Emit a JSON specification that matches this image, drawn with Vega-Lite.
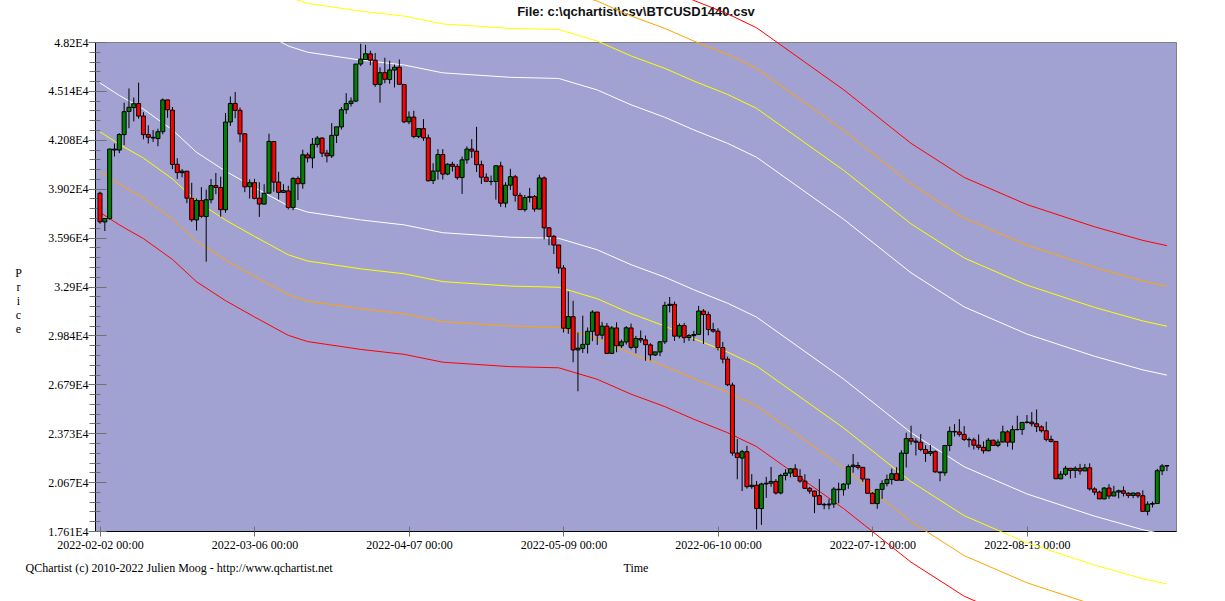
{
"$schema": "https://vega.github.io/schema/vega-lite/v6.json",
"width": 1081,
"height": 489,
"autosize": {"type": "none"},
"padding": {"left": 95, "top": 42, "right": 49, "bottom": 70},
"background": "white",
"config": {
  "view": {"fill": "#A2A2D2", "stroke": "#808080", "strokeWidth": 1},
  "axis": {"labelFont": "Liberation Serif", "labelFontSize": 12, "labelColor": "#000000", "titleFont": "Liberation Serif", "titleFontSize": 12, "titleFontWeight": "normal", "titleColor": "#000000", "grid": false, "tickColor": "#707070", "domainColor": "#000000", "labelFlush": false, "labelOverlap": false}
},
"datasets": {
"bands": [
{"d":"2022-02-02","w1":55640,"y1":58700,"o1":61200,"r1":63740,"w2":45640,"y2":42580,"o2":40080,"r2":37540},
{"d":"2022-02-06","w1":54860,"y1":57920,"o1":60420,"r1":62960,"w2":44860,"y2":41800,"o2":39300,"r2":36760},
{"d":"2022-02-11","w1":54000,"y1":57060,"o1":59560,"r1":62100,"w2":44000,"y2":40940,"o2":38440,"r2":35900},
{"d":"2022-02-17","w1":52700,"y1":55760,"o1":58260,"r1":60800,"w2":42700,"y2":39640,"o2":37140,"r2":34600},
{"d":"2022-02-22","w1":51300,"y1":54360,"o1":56860,"r1":59400,"w2":41300,"y2":38240,"o2":35740,"r2":33200},
{"d":"2022-02-28","w1":50120,"y1":53180,"o1":55680,"r1":58220,"w2":40120,"y2":37060,"o2":34560,"r2":32020},
{"d":"2022-03-06","w1":49100,"y1":52160,"o1":54660,"r1":57200,"w2":39100,"y2":36040,"o2":33540,"r2":31000},
{"d":"2022-03-13","w1":47950,"y1":51010,"o1":53510,"r1":56050,"w2":37950,"y2":34890,"o2":32390,"r2":29850},
{"d":"2022-03-17","w1":47560,"y1":50620,"o1":53120,"r1":55660,"w2":37560,"y2":34500,"o2":32000,"r2":29460},
{"d":"2022-03-28","w1":47070,"y1":50130,"o1":52630,"r1":55170,"w2":37070,"y2":34010,"o2":31510,"r2":28970},
{"d":"2022-04-06","w1":46760,"y1":49820,"o1":52320,"r1":54860,"w2":36760,"y2":33700,"o2":31200,"r2":28660},
{"d":"2022-04-14","w1":46270,"y1":49330,"o1":51830,"r1":54370,"w2":36270,"y2":33210,"o2":30710,"r2":28170},
{"d":"2022-04-28","w1":45990,"y1":49050,"o1":51550,"r1":54090,"w2":35990,"y2":32930,"o2":30430,"r2":27890},
{"d":"2022-05-08","w1":45920,"y1":48980,"o1":51480,"r1":54020,"w2":35920,"y2":32860,"o2":30360,"r2":27820},
{"d":"2022-05-16","w1":45200,"y1":48260,"o1":50760,"r1":53300,"w2":35200,"y2":32140,"o2":29640,"r2":27100},
{"d":"2022-05-23","w1":44270,"y1":47330,"o1":49830,"r1":52370,"w2":34270,"y2":31210,"o2":28710,"r2":26170},
{"d":"2022-05-30","w1":43490,"y1":46550,"o1":49050,"r1":51590,"w2":33490,"y2":30430,"o2":27930,"r2":25390},
{"d":"2022-06-05","w1":42700,"y1":45760,"o1":48260,"r1":50800,"w2":32700,"y2":29640,"o2":27140,"r2":24600},
{"d":"2022-06-12","w1":41860,"y1":44920,"o1":47420,"r1":49960,"w2":31860,"y2":28800,"o2":26300,"r2":23760},
{"d":"2022-06-18","w1":40990,"y1":44050,"o1":46550,"r1":49090,"w2":30990,"y2":27930,"o2":25430,"r2":22890},
{"d":"2022-07-06","w1":37120,"y1":40180,"o1":42680,"r1":45220,"w2":27120,"y2":24060,"o2":21560,"r2":19020},
{"d":"2022-07-20","w1":33760,"y1":36820,"o1":39320,"r1":41860,"w2":23760,"y2":20700,"o2":18200,"r2":15660},
{"d":"2022-07-31","w1":31630,"y1":34690,"o1":37190,"r1":39730,"w2":21630,"y2":18570,"o2":16070,"r2":13530},
{"d":"2022-08-13","w1":29930,"y1":32990,"o1":35490,"r1":38030,"w2":19930,"y2":16870,"o2":14370,"r2":11830},
{"d":"2022-08-27","w1":28540,"y1":31600,"o1":34100,"r1":36640,"w2":18540,"y2":15480,"o2":12980,"r2":10440},
{"d":"2022-09-06","w1":27690,"y1":30750,"o1":33250,"r1":35790,"w2":17690,"y2":14630,"o2":12130,"r2":9590},
{"d":"2022-09-11","w1":27360,"y1":30420,"o1":32920,"r1":35460,"w2":17360,"y2":14300,"o2":11800,"r2":9260}
],
"ohlc": [
{"d":"2022-02-02","o":38743,"h":38834,"l":36832,"c":36952},
{"d":"2022-02-03","o":36944,"h":37154,"l":36375,"c":37154},
{"d":"2022-02-04","o":37149,"h":41527,"l":37093,"c":41501},
{"d":"2022-02-05","o":41501,"h":41847,"l":41038,"c":41441},
{"d":"2022-02-06","o":41441,"h":42500,"l":41244,"c":42412},
{"d":"2022-02-07","o":42406,"h":44401,"l":41748,"c":43840},
{"d":"2022-02-08","o":43855,"h":45293,"l":42807,"c":44118},
{"d":"2022-02-09","o":44097,"h":44725,"l":43232,"c":44338},
{"d":"2022-02-10","o":44347,"h":45661,"l":43402,"c":43565},
{"d":"2022-02-11","o":43571,"h":43810,"l":42114,"c":42407},
{"d":"2022-02-12","o":42412,"h":42992,"l":41852,"c":42244},
{"d":"2022-02-13","o":42236,"h":42693,"l":41950,"c":42197},
{"d":"2022-02-14","o":42158,"h":42775,"l":41681,"c":42586},
{"d":"2022-02-15","o":42586,"h":44667,"l":42428,"c":44575},
{"d":"2022-02-16","o":44578,"h":44578,"l":43456,"c":43961},
{"d":"2022-02-17","o":43937,"h":44132,"l":40249,"c":40538},
{"d":"2022-02-18","o":40552,"h":40929,"l":39638,"c":40030},
{"d":"2022-02-19","o":40022,"h":40246,"l":39730,"c":40122},
{"d":"2022-02-20","o":40119,"h":40119,"l":38113,"c":38431},
{"d":"2022-02-21","o":38423,"h":39394,"l":36950,"c":37075},
{"d":"2022-02-22","o":37068,"h":38408,"l":36404,"c":38286},
{"d":"2022-02-23","o":38285,"h":39122,"l":37201,"c":37296},
{"d":"2022-02-24","o":37278,"h":38968,"l":34459,"c":38332},
{"d":"2022-02-25","o":38333,"h":39630,"l":38111,"c":39214},
{"d":"2022-02-26","o":39213,"h":40005,"l":38677,"c":39105},
{"d":"2022-02-27","o":39098,"h":39778,"l":37268,"c":37709},
{"d":"2022-02-28","o":37707,"h":43760,"l":37518,"c":43193},
{"d":"2022-03-01","o":43195,"h":44793,"l":42952,"c":44354},
{"d":"2022-03-02","o":44357,"h":45077,"l":43432,"c":43924},
{"d":"2022-03-03","o":43926,"h":44102,"l":41933,"c":42451},
{"d":"2022-03-04","o":42458,"h":42479,"l":38805,"c":39137},
{"d":"2022-03-05","o":39148,"h":39613,"l":38407,"c":39400},
{"d":"2022-03-06","o":39404,"h":39640,"l":38357,"c":38419},
{"d":"2022-03-07","o":38430,"h":39430,"l":37260,"c":38062},
{"d":"2022-03-08","o":38059,"h":39304,"l":38052,"c":38737},
{"d":"2022-03-09","o":38743,"h":42465,"l":38743,"c":41982},
{"d":"2022-03-10","o":41974,"h":42004,"l":38833,"c":39437},
{"d":"2022-03-11","o":39440,"h":40081,"l":38347,"c":38794},
{"d":"2022-03-12","o":38794,"h":39308,"l":38772,"c":38904},
{"d":"2022-03-13","o":38884,"h":39209,"l":37728,"c":37849},
{"d":"2022-03-14","o":37846,"h":39742,"l":37680,"c":39666},
{"d":"2022-03-15","o":39664,"h":39794,"l":38310,"c":39338},
{"d":"2022-03-16","o":39335,"h":41465,"l":39022,"c":41143},
{"d":"2022-03-17","o":41140,"h":41287,"l":40662,"c":40951},
{"d":"2022-03-18","o":40944,"h":42195,"l":40302,"c":41801},
{"d":"2022-03-19","o":41795,"h":42316,"l":41602,"c":42190},
{"d":"2022-03-20","o":42191,"h":42241,"l":41004,"c":41247},
{"d":"2022-03-21","o":41246,"h":41454,"l":40668,"c":41077},
{"d":"2022-03-22","o":41074,"h":43124,"l":40948,"c":42358},
{"d":"2022-03-23","o":42364,"h":42893,"l":41877,"c":42892},
{"d":"2022-03-24","o":42887,"h":44131,"l":42727,"c":43960},
{"d":"2022-03-25","o":43964,"h":44999,"l":43706,"c":44348},
{"d":"2022-03-26","o":44349,"h":44735,"l":44166,"c":44500},
{"d":"2022-03-27","o":44505,"h":46827,"l":44437,"c":46820},
{"d":"2022-03-28","o":46821,"h":48086,"l":46690,"c":47128},
{"d":"2022-03-29","o":47101,"h":48022,"l":47101,"c":47465},
{"d":"2022-03-30","o":47456,"h":47655,"l":46746,"c":47062},
{"d":"2022-03-31","o":47063,"h":47512,"l":45390,"c":45538},
{"d":"2022-04-01","o":45554,"h":46616,"l":44403,"c":46281},
{"d":"2022-04-02","o":46285,"h":47213,"l":45620,"c":45868},
{"d":"2022-04-03","o":45859,"h":47032,"l":45587,"c":46453},
{"d":"2022-04-04","o":46445,"h":46792,"l":45353,"c":46622},
{"d":"2022-04-05","o":46624,"h":47107,"l":45544,"c":45555},
{"d":"2022-04-06","o":45544,"h":45544,"l":43123,"c":43206},
{"d":"2022-04-07","o":43207,"h":43860,"l":43059,"c":43503},
{"d":"2022-04-08","o":43505,"h":43903,"l":42183,"c":42287},
{"d":"2022-04-09","o":42282,"h":42786,"l":42183,"c":42782},
{"d":"2022-04-10","o":42781,"h":43376,"l":42021,"c":42207},
{"d":"2022-04-11","o":42202,"h":42414,"l":39468,"c":39521},
{"d":"2022-04-12","o":39533,"h":40617,"l":39315,"c":40127},
{"d":"2022-04-13","o":40123,"h":41500,"l":39589,"c":41166},
{"d":"2022-04-14","o":41160,"h":41500,"l":39595,"c":39936},
{"d":"2022-04-15","o":39939,"h":40617,"l":39868,"c":40553},
{"d":"2022-04-16","o":40552,"h":40709,"l":40097,"c":40424},
{"d":"2022-04-17","o":40418,"h":40570,"l":39587,"c":39716},
{"d":"2022-04-18","o":39722,"h":41030,"l":38696,"c":40827},
{"d":"2022-04-19","o":40828,"h":41672,"l":40583,"c":41502},
{"d":"2022-04-20","o":41501,"h":42126,"l":40944,"c":41374},
{"d":"2022-04-21","o":41371,"h":42893,"l":40063,"c":40527},
{"d":"2022-04-22","o":40525,"h":40777,"l":39315,"c":39741},
{"d":"2022-04-23","o":39740,"h":39980,"l":39437,"c":39486},
{"d":"2022-04-24","o":39478,"h":39845,"l":39233,"c":39469},
{"d":"2022-04-25","o":39473,"h":40491,"l":38338,"c":40458},
{"d":"2022-04-26","o":40448,"h":40713,"l":37884,"c":38117},
{"d":"2022-04-27","o":38121,"h":39427,"l":37847,"c":39241},
{"d":"2022-04-28","o":39242,"h":40269,"l":38942,"c":39773},
{"d":"2022-04-29","o":39768,"h":39887,"l":38213,"c":38610},
{"d":"2022-04-30","o":38606,"h":38775,"l":37697,"c":37714},
{"d":"2022-05-01","o":37714,"h":38627,"l":37585,"c":38469},
{"d":"2022-05-02","o":38472,"h":39074,"l":38157,"c":38529},
{"d":"2022-05-03","o":38529,"h":38629,"l":37585,"c":37750},
{"d":"2022-05-04","o":37749,"h":39902,"l":37733,"c":39698},
{"d":"2022-05-05","o":39695,"h":39789,"l":35856,"c":36575},
{"d":"2022-05-06","o":36573,"h":36624,"l":35482,"c":36040},
{"d":"2022-05-07","o":36043,"h":36129,"l":34940,"c":35501},
{"d":"2022-05-08","o":35502,"h":35502,"l":33713,"c":34059},
{"d":"2022-05-09","o":34061,"h":34243,"l":30033,"c":30296},
{"d":"2022-05-10","o":30273,"h":32596,"l":29944,"c":31023},
{"d":"2022-05-11","o":31016,"h":32013,"l":28170,"c":28936},
{"d":"2022-05-12","o":28936,"h":30032,"l":26350,"c":29047},
{"d":"2022-05-13","o":29030,"h":31083,"l":28752,"c":29283},
{"d":"2022-05-14","o":29288,"h":30343,"l":28713,"c":30101},
{"d":"2022-05-15","o":30099,"h":31417,"l":29487,"c":31305},
{"d":"2022-05-16","o":31304,"h":31305,"l":29251,"c":29862},
{"d":"2022-05-17","o":29862,"h":30695,"l":29599,"c":30425},
{"d":"2022-05-18","o":30424,"h":30618,"l":28720,"c":28720},
{"d":"2022-05-19","o":28720,"h":30430,"l":28708,"c":30314},
{"d":"2022-05-20","o":30311,"h":30664,"l":28793,"c":29201},
{"d":"2022-05-21","o":29199,"h":29589,"l":29056,"c":29445},
{"d":"2022-05-22","o":29433,"h":30425,"l":29275,"c":30323},
{"d":"2022-05-23","o":30310,"h":30590,"l":28975,"c":29098},
{"d":"2022-05-24","o":29101,"h":29813,"l":28729,"c":29655},
{"d":"2022-05-25","o":29653,"h":30157,"l":29385,"c":29562},
{"d":"2022-05-26","o":29564,"h":29834,"l":28261,"c":29267},
{"d":"2022-05-27","o":29251,"h":29359,"l":28283,"c":28627},
{"d":"2022-05-28","o":28622,"h":28814,"l":28554,"c":28814},
{"d":"2022-05-29","o":28811,"h":29498,"l":28551,"c":29445},
{"d":"2022-05-30","o":29443,"h":31949,"l":29303,"c":31726},
{"d":"2022-05-31","o":31723,"h":32249,"l":31286,"c":31792},
{"d":"2022-06-01","o":31792,"h":31957,"l":29501,"c":29799},
{"d":"2022-06-02","o":29795,"h":30604,"l":29652,"c":30467},
{"d":"2022-06-03","o":30467,"h":30633,"l":29375,"c":29704},
{"d":"2022-06-04","o":29707,"h":29930,"l":29500,"c":29832},
{"d":"2022-06-05","o":29832,"h":30130,"l":29490,"c":29906},
{"d":"2022-06-06","o":29910,"h":31693,"l":29894,"c":31371},
{"d":"2022-06-07","o":31371,"h":31489,"l":29311,"c":31155},
{"d":"2022-06-08","o":31151,"h":31333,"l":29850,"c":30214},
{"d":"2022-06-09","o":30216,"h":30633,"l":30020,"c":30112},
{"d":"2022-06-10","o":30110,"h":30294,"l":28900,"c":29083},
{"d":"2022-06-11","o":29084,"h":29438,"l":28100,"c":28360},
{"d":"2022-06-12","o":28360,"h":28525,"l":26671,"c":26762},
{"d":"2022-06-13","o":26738,"h":26888,"l":22324,"c":22487},
{"d":"2022-06-14","o":22485,"h":23362,"l":20847,"c":22206},
{"d":"2022-06-15","o":22176,"h":22684,"l":20111,"c":22572},
{"d":"2022-06-16","o":22573,"h":22934,"l":20258,"c":20381},
{"d":"2022-06-17","o":20385,"h":21165,"l":20246,"c":20471},
{"d":"2022-06-18","o":20473,"h":20736,"l":17708,"c":19018},
{"d":"2022-06-19","o":19011,"h":20630,"l":17993,"c":20553},
{"d":"2022-06-20","o":20554,"h":20994,"l":19681,"c":20599},
{"d":"2022-06-21","o":20600,"h":21620,"l":20375,"c":20710},
{"d":"2022-06-22","o":20716,"h":20856,"l":19892,"c":19987},
{"d":"2022-06-23","o":19988,"h":21193,"l":19902,"c":21085},
{"d":"2022-06-24","o":21084,"h":21472,"l":20777,"c":21231},
{"d":"2022-06-25","o":21233,"h":21520,"l":20964,"c":21502},
{"d":"2022-06-26","o":21497,"h":21784,"l":21016,"c":21028},
{"d":"2022-06-27","o":21028,"h":21478,"l":20620,"c":20735},
{"d":"2022-06-28","o":20731,"h":21164,"l":20228,"c":20281},
{"d":"2022-06-29","o":20281,"h":20364,"l":19937,"c":20105},
{"d":"2022-06-30","o":20108,"h":20141,"l":18729,"c":19785},
{"d":"2022-07-01","o":19820,"h":20865,"l":19222,"c":19270},
{"d":"2022-07-02","o":19274,"h":19371,"l":18971,"c":19243},
{"d":"2022-07-03","o":19245,"h":19603,"l":18966,"c":19297},
{"d":"2022-07-04","o":19297,"h":20354,"l":19055,"c":20232},
{"d":"2022-07-05","o":20225,"h":20635,"l":19341,"c":20190},
{"d":"2022-07-06","o":20194,"h":20595,"l":19823,"c":20548},
{"d":"2022-07-07","o":20547,"h":21771,"l":20249,"c":21638},
{"d":"2022-07-08","o":21637,"h":22428,"l":21257,"c":21731},
{"d":"2022-07-09","o":21704,"h":21918,"l":21460,"c":21592},
{"d":"2022-07-10","o":21593,"h":21594,"l":20690,"c":20861},
{"d":"2022-07-11","o":20857,"h":20860,"l":19939,"c":19971},
{"d":"2022-07-12","o":19971,"h":20044,"l":19308,"c":19323},
{"d":"2022-07-13","o":19325,"h":20219,"l":18999,"c":20213},
{"d":"2022-07-14","o":20211,"h":20792,"l":19617,"c":20570},
{"d":"2022-07-15","o":20573,"h":21138,"l":20397,"c":20836},
{"d":"2022-07-16","o":20835,"h":21515,"l":20518,"c":21191},
{"d":"2022-07-17","o":21196,"h":21600,"l":20778,"c":20779},
{"d":"2022-07-18","o":20782,"h":22660,"l":20758,"c":22485},
{"d":"2022-07-19","o":22467,"h":23757,"l":21582,"c":23390},
{"d":"2022-07-20","o":23393,"h":24196,"l":23009,"c":23231},
{"d":"2022-07-21","o":23235,"h":23412,"l":22336,"c":23164},
{"d":"2022-07-22","o":23163,"h":23671,"l":22603,"c":22714},
{"d":"2022-07-23","o":22706,"h":22977,"l":21935,"c":22466},
{"d":"2022-07-24","o":22466,"h":23000,"l":22300,"c":22579},
{"d":"2022-07-25","o":22577,"h":22654,"l":21250,"c":21310},
{"d":"2022-07-26","o":21302,"h":21303,"l":20721,"c":21254},
{"d":"2022-07-27","o":21249,"h":22990,"l":21060,"c":22953},
{"d":"2022-07-28","o":22956,"h":24145,"l":22610,"c":23843},
{"d":"2022-07-29","o":23838,"h":24294,"l":23518,"c":23804},
{"d":"2022-07-30","o":23806,"h":24609,"l":23517,"c":23656},
{"d":"2022-07-31","o":23652,"h":24174,"l":23234,"c":23336},
{"d":"2022-08-01","o":23336,"h":23464,"l":22850,"c":23314},
{"d":"2022-08-02","o":23308,"h":23442,"l":22707,"c":22978},
{"d":"2022-08-03","o":22981,"h":23648,"l":22697,"c":22846},
{"d":"2022-08-04","o":22846,"h":23213,"l":22453,"c":22630},
{"d":"2022-08-05","o":22631,"h":23430,"l":22588,"c":23289},
{"d":"2022-08-06","o":23289,"h":23325,"l":22927,"c":22961},
{"d":"2022-08-07","o":22962,"h":23339,"l":22851,"c":23175},
{"d":"2022-08-08","o":23179,"h":24203,"l":23151,"c":23810},
{"d":"2022-08-09","o":23811,"h":23915,"l":22884,"c":23164},
{"d":"2022-08-10","o":23163,"h":24203,"l":22697,"c":23948},
{"d":"2022-08-11","o":23949,"h":24822,"l":23909,"c":23957},
{"d":"2022-08-12","o":23957,"h":24426,"l":23621,"c":24402},
{"d":"2022-08-13","o":24402,"h":24869,"l":24327,"c":24424},
{"d":"2022-08-14","o":24424,"h":25047,"l":24144,"c":24319},
{"d":"2022-08-15","o":24318,"h":25211,"l":23798,"c":24136},
{"d":"2022-08-16","o":24127,"h":24225,"l":23773,"c":23883},
{"d":"2022-08-17","o":23881,"h":24447,"l":23218,"c":23336},
{"d":"2022-08-18","o":23342,"h":23580,"l":23140,"c":23212},
{"d":"2022-08-19","o":23213,"h":23213,"l":20868,"c":20877},
{"d":"2022-08-20","o":20872,"h":21359,"l":20856,"c":21166},
{"d":"2022-08-21","o":21160,"h":21682,"l":21060,"c":21534},
{"d":"2022-08-22","o":21531,"h":21531,"l":20893,"c":21398},
{"d":"2022-08-23","o":21400,"h":21659,"l":20928,"c":21529},
{"d":"2022-08-24","o":21529,"h":21811,"l":21136,"c":21368},
{"d":"2022-08-25","o":21368,"h":21804,"l":21362,"c":21560},
{"d":"2022-08-26","o":21562,"h":21842,"l":20136,"c":20242},
{"d":"2022-08-27","o":20241,"h":20345,"l":19853,"c":20041},
{"d":"2022-08-28","o":20042,"h":20135,"l":19612,"c":19616},
{"d":"2022-08-29","o":19616,"h":20357,"l":19600,"c":20297},
{"d":"2022-08-30","o":20298,"h":20542,"l":19617,"c":19797},
{"d":"2022-08-31","o":19799,"h":20437,"l":19799,"c":20050},
{"d":"2022-09-01","o":20050,"h":20198,"l":19653,"c":20127},
{"d":"2022-09-02","o":20127,"h":20401,"l":19771,"c":19969},
{"d":"2022-09-03","o":19970,"h":20036,"l":19675,"c":19832},
{"d":"2022-09-04","o":19833,"h":20001,"l":19659,"c":19986},
{"d":"2022-09-05","o":19988,"h":20031,"l":19673,"c":19812},
{"d":"2022-09-06","o":19817,"h":20155,"l":18800,"c":18837},
{"d":"2022-09-07","o":18838,"h":19464,"l":18592,"c":19290},
{"d":"2022-09-08","o":19289,"h":19455,"l":19082,"c":19329},
{"d":"2022-09-09","o":19328,"h":21500,"l":19321,"c":21382},
{"d":"2022-09-10","o":21377,"h":21800,"l":21108,"c":21680},
{"d":"2022-09-11","o":21680,"h":21730,"l":21360,"c":21700}
]
},
"resolve": {"axis": {"x": "independent", "y": "independent"}},
"layer": [
{
  "data": {"name": "bands"},
  "transform": [{"fold": ["w1", "y1", "o1", "r1"], "as": ["k", "v"]}],
  "mark": {"type": "line", "strokeWidth": 1, "clip": false},
  "encoding": {
    "x": {"field": "d", "type": "temporal", "scale": {"type": "utc", "domain": [1643760000000, 1662926976000]},
      "axis": {"orient": "bottom", "labels": false, "ticks": false, "domain": false, "title": "QChartist (c) 2010-2022 Julien Moog - http://www.qchartist.net", "titleAnchor": "start", "titleAlign": "left", "titleBaseline": "alphabetic", "titleX": -70, "titleY": 40}},
    "y": {"field": "v", "type": "quantitative", "scale": {"domain": [17610, 48200], "nice": false, "zero": false},
      "axis": {"orient": "left", "values": [17610, 20669, 23728, 26787, 29840, 32900, 35964, 39023, 42082, 45141, 48200], "labelExpr": "format(datum.value / 10000, '.4') + 'E4'", "tickSize": 7, "labelPadding": 0, "domain": true, "domainColor": "#000000", "title": ["P", "r", "i", "c", "e"], "titleAngle": 0, "titleAlign": "center", "titleBaseline": "alphabetic", "titleX": -77, "titleY": 234, "titleLineHeight": 14}},
    "color": {"field": "k", "type": "nominal", "scale": {"domain": ["w1", "y1", "o1", "r1", "w2", "y2", "o2", "r2"], "range": ["#ffffff", "#ffff00", "#ffa500", "#ff0000", "#ffffff", "#ffff00", "#ffa500", "#ff0000"]}, "legend": null}
  }
},
{
  "data": {"name": "bands"},
  "transform": [{"fold": ["w2", "y2", "o2", "r2"], "as": ["k", "v"]}],
  "mark": {"type": "line", "strokeWidth": 1, "clip": false},
  "encoding": {
    "x": {"field": "d", "type": "temporal", "scale": {"type": "utc", "domain": [1643760000000, 1662926976000]},
      "axis": {"orient": "bottom", "values": [1643760000000, 1646524800000, 1649289600000, 1652054400000, 1654819200000, 1657584000000, 1660348800000], "labelExpr": "utcFormat(datum.value, '%Y-%m-%d %H:%M')", "tickSize": 5, "labelPadding": 3, "domain": true, "domainColor": "#000000", "title": "Time", "titleY": 40, "titleBaseline": "alphabetic"}},
    "y": {"field": "v", "type": "quantitative", "scale": {"domain": [17610, 48200], "nice": false, "zero": false},
      "axis": {"orient": "left", "values": [17610, 20669, 23728, 26787, 29846, 32905, 35964, 39023, 42082, 45141, 48200], "labels": false, "domain": false, "tickSize": -11, "title": null}},
    "color": {"field": "k", "type": "nominal", "legend": null}
  }
},
{
  "data": {"name": "ohlc"},
  "mark": {"type": "rule", "color": "#000000", "strokeWidth": 1},
  "encoding": {
    "x": {"field": "d", "type": "temporal", "scale": {"type": "utc", "domain": [1643760000000, 1662926976000]},
      "axis": {"orient": "bottom", "values": [1643760000000, 1646524800000, 1649289600000, 1652054400000, 1654819200000, 1657584000000, 1660348800000], "labels": false, "domain": false, "tickSize": -5, "title": null}},
    "y": {"field": "l", "type": "quantitative", "scale": {"domain": [17610, 48200], "nice": false, "zero": false},
      "axis": {"orient": "left", "values": [17610, 18221.8, 18833.6, 19445.4, 20057.2, 20669, 21280.8, 21892.6, 22504.4, 23116.2, 23728, 24339.8, 24951.6, 25563.4, 26175.2, 26787, 27398.8, 28010.6, 28622.4, 29234.2, 29846, 30457.8, 31069.6, 31681.4, 32293.2, 32905, 33516.8, 34128.6, 34740.4, 35352.2, 35964, 36575.8, 37187.6, 37799.4, 38411.2, 39023, 39634.8, 40246.6, 40858.4, 41470.2, 42082, 42693.8, 43305.6, 43917.4, 44529.2, 45141, 45752.8, 46364.6, 46976.4, 47588.2, 48200], "labels": false, "domain": false, "tickSize": 6, "title": null}},
    "y2": {"field": "h"}
  }
},
{
  "data": {"name": "ohlc"},
  "mark": {"type": "bar", "size": 4, "stroke": "#000000", "strokeWidth": 1, "opacity": 1},
  "encoding": {
    "x": {"field": "d", "type": "temporal", "scale": {"type": "utc", "domain": [1643760000000, 1662926976000]},
      "axis": {"orient": "top", "labels": false, "ticks": false, "domain": false, "title": "File: c:\\qchartist\\csv\\BTCUSD1440.csv", "titleFont": "Liberation Sans", "titleFontSize": 13, "titleFontWeight": "bold", "titleColor": "#111111", "titleAnchor": "middle", "titleAlign": "center", "titleBaseline": "alphabetic", "titleX": 540.5, "titleY": -27}},
    "y": {"field": "o", "type": "quantitative", "scale": {"domain": [17610, 48200], "nice": false, "zero": false},
      "axis": {"orient": "left", "values": [17610, 18221.8, 18833.6, 19445.4, 20057.2, 20669, 21280.8, 21892.6, 22504.4, 23116.2, 23728, 24339.8, 24951.6, 25563.4, 26175.2, 26787, 27398.8, 28010.6, 28622.4, 29234.2, 29846, 30457.8, 31069.6, 31681.4, 32293.2, 32905, 33516.8, 34128.6, 34740.4, 35352.2, 35964, 36575.8, 37187.6, 37799.4, 38411.2, 39023, 39634.8, 40246.6, 40858.4, 41470.2, 42082, 42693.8, 43305.6, 43917.4, 44529.2, 45141, 45752.8, 46364.6, 46976.4, 47588.2, 48200], "labels": false, "domain": false, "tickSize": -5, "title": null}},
    "y2": {"field": "c"},
    "fill": {"condition": {"test": "datum.c >= datum.o", "value": "#008000"}, "value": "#ff0000"}
  }
}
]
}
